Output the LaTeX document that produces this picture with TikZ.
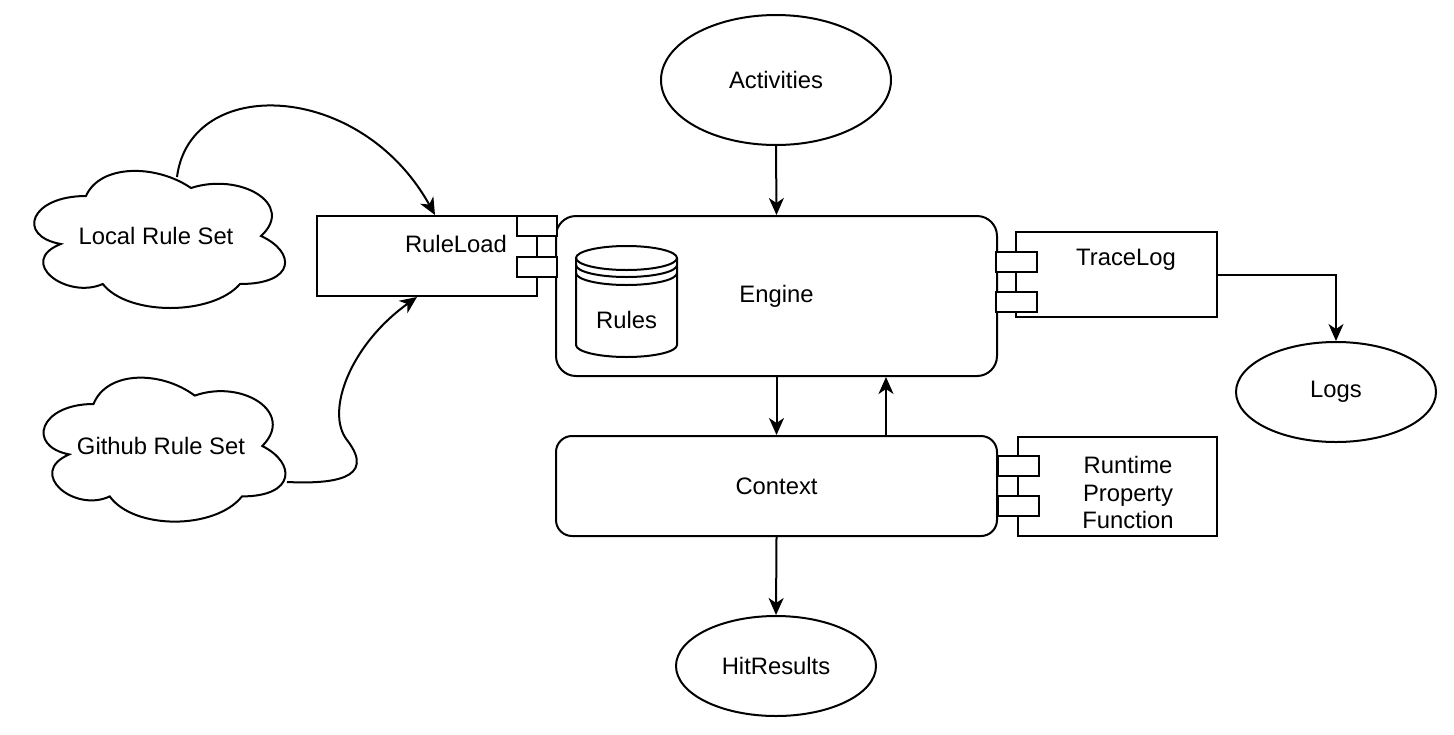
\documentclass[tikz,border=0pt]{standalone}
\usepackage{fontspec}
\setmainfont{Liberation Sans}
\usetikzlibrary{arrows.meta,shapes.geometric}

\tikzset{
  conn/.style={-{Stealth[length=8.5pt,width=7.5pt,inset=2.5pt]}, line width=1pt},
  box/.style={draw, line width=1pt, inner sep=0pt},
  roundbox/.style={box, rounded corners=10pt},
  oval/.style={draw, ellipse, line width=1pt, inner sep=0pt},
  port/.style={draw, fill=white, line width=1pt, minimum width=20pt, minimum height=10pt, inner sep=0pt},
}

% cloud outline: origin x, origin y, half width, half height
\newcommand{\rulecloud}[4]{%
  \begin{scope}[shift={(#1,#2)}, x=#3, y=-#4]
    \draw[line width=1pt, fill=white] (0.25,0.25)
      .. controls (0.05,0.25) and (0,0.5) .. (0.16,0.55)
      .. controls (0,0.66) and (0.18,0.9) .. (0.31,0.8)
      .. controls (0.4,1) and (0.7,1) .. (0.8,0.8)
      .. controls (1,0.8) and (1,0.6) .. (0.875,0.5)
      .. controls (1,0.3) and (0.8,0.1) .. (0.625,0.2)
      .. controls (0.5,0.05) and (0.3,0.05) .. (0.25,0.25) -- cycle;
  \end{scope}}

\begin{document}
\begin{tikzpicture}[x=0.5pt, y=-0.5pt, font=\fontsize{11.9}{13.75}\selectfont]
  \useasboundingbox (0,0) rectangle (1454,734);

  % Rule sets
  \rulecloud{16}{156}{140pt}{80pt}
  \node (local) at (156,236) {Local Rule Set};
  \coordinate (localout) at (177,177);
  \rulecloud{26}{362}{135pt}{84pt}
  \node (github) at (161,446) {Github Rule Set};
  \coordinate (githubout) at (287,482);

  % Activities
  \node[oval, minimum width=115pt, minimum height=65pt] (act) at (776,80) {Activities};

  % Engine
  \node[roundbox, minimum width=220.5pt, minimum height=80pt] (engine) at (776.5,296) {Engine};

  % Rules store
  \draw[line width=1pt, fill=white] (576,258) -- (576,345)
    arc[start angle=180, end angle=360, x radius=25.25pt, y radius=6pt] -- (677,258);
  \draw[line width=1pt] (626.5,258) ellipse[x radius=25.25pt, y radius=6pt];
  \draw[line width=1pt] (576,265) arc[start angle=180, end angle=360, x radius=25.25pt, y radius=6pt];
  \draw[line width=1pt] (576,273) arc[start angle=180, end angle=360, x radius=25.25pt, y radius=6pt];
  \node (rules) at (626.5,320) {Rules};

  % Context
  \node[roundbox, rounded corners=8pt, minimum width=220.5pt, minimum height=50pt] (ctx) at (776.5,486) {Context};

  % HitResults and Logs
  \node[oval, minimum width=100pt, minimum height=50pt] (hit) at (776,666) {HitResults};
  \node[oval, minimum width=100pt, minimum height=50pt] (logs) at (1336,392) {Logs};

  % RuleLoad component
  \node[box, minimum width=110pt, minimum height=40pt] (ruleload) at (427,256) {};
  \node[port] (rlport1) at (537,226) {};
  \node[port] (rlport2) at (537,267) {};
  \node (rltext) at (456,244) {RuleLoad};

  % TraceLog component
  \node[box, minimum width=100.5pt, minimum height=42.5pt] (tracelog) at (1116.5,274.5) {};
  \node[port, minimum width=20.5pt] (tlport1) at (1016.5,261.5) {};
  \node[port, minimum width=20.5pt] (tlport2) at (1016.5,301.5) {};
  \node (tltext) at (1126,260) {TraceLog};

  % Runtime component
  \node[box, minimum width=99.5pt, minimum height=49.5pt] (runtime) at (1117.5,486.5) {};
  \node[port, minimum width=20.5pt] (rtport1) at (1018.5,466) {};
  \node[port, minimum width=20.5pt] (rtport2) at (1018.5,506) {};
  \node[align=center] (rttext) at (1128,492.5) {Runtime\\Property\\Function};

  % Connectors
  \draw[conn] (act.south) -- (engine.north);
  \draw[conn] (engine.south) -- (ctx.north);
  \draw[conn] ([xshift=54.75pt]ctx.north) -- ([xshift=54.75pt]engine.south);
  \draw[conn] (ctx.south) -- (hit.north);
  \draw[conn] (tracelog.east) -| (logs.north);
  \draw[conn] (localout) .. controls (190,75) and (360,80) .. ([xshift=4pt]ruleload.north);
  \draw[conn] (githubout) .. controls (330,484) and (378,480) .. (347,440)
    .. controls (325,412) and (350,345) .. ([xshift=-5pt]ruleload.south);
\end{tikzpicture}
\end{document}
